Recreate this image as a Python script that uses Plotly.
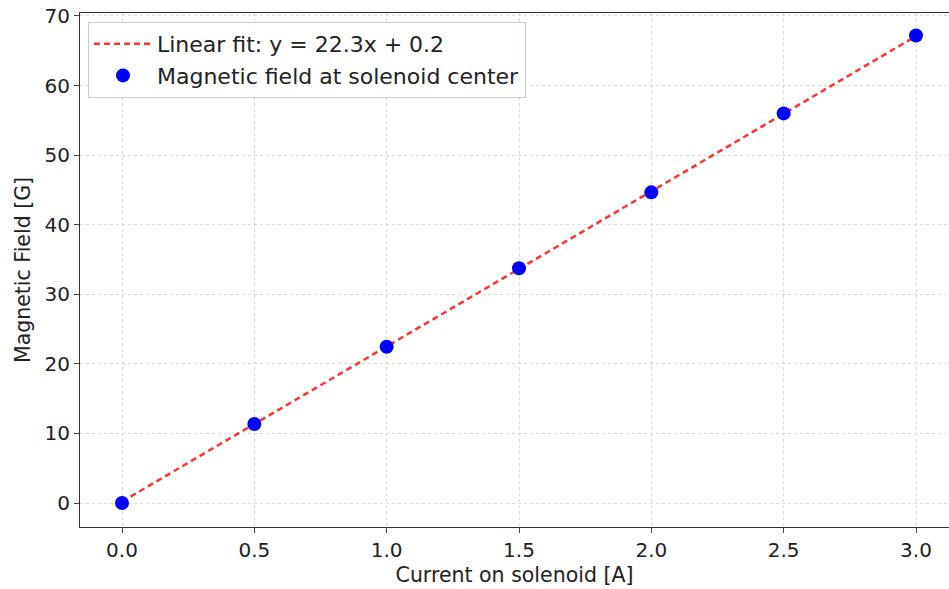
import plotly.graph_objects as go

current = [0.0, 0.5, 1.0, 1.5, 2.0, 2.5, 3.0]
field = [0.0, 11.35, 22.45, 33.75, 44.65, 56.0, 67.2]
field_err = [0.1, 0.1, 0.1, 0.1, 0.1, 0.1, 0.1]
current_err = [0.005, 0.005, 0.005, 0.005, 0.005, 0.005, 0.005]
fit_x = [0.0, 3.0]
fit_y = [0.2, 67.1]
x_ticks = [0.0, 0.5, 1.0, 1.5, 2.0, 2.5, 3.0]
x_tick_labels = ["0.0", "0.5", "1.0", "1.5", "2.0", "2.5", "3.0"]
y_ticks = [0, 10, 20, 30, 40, 50, 60, 70]

W, H = 949, 589
ml, mr, mt, mb = 80, 0, 13, 62
font = "DejaVu Sans"
tfs = 20
lfs = 20.5
gfs = 22

fig = go.Figure()
fig.add_trace(go.Scatter(
    x=fit_x, y=fit_y, mode="lines",
    line=dict(color="rgba(255,0,0,0.8)", width=2.5, dash="6px,4px"),
    name="Linear fit: y = 22.3x + 0.2",
))
fig.add_trace(go.Scatter(
    x=current, y=field, mode="markers",
    marker=dict(color="blue", size=14),
    error_y=dict(type="data", array=field_err, color="blue", thickness=1.5, width=0),
    error_x=dict(type="data", array=current_err, color="blue", thickness=1.5, width=0),
    name="Magnetic field at solenoid center",
))

axis_common = dict(
    showline=True, linecolor="#333333", linewidth=1,
    ticks="outside", ticklen=5, tickcolor="#444444",
    showgrid=True, gridcolor="#dadada", griddash="dot", gridwidth=1,
    zeroline=False,
    tickfont=dict(family=font, size=tfs, color="#222222"),
)

fig.update_layout(
    width=W, height=H,
    margin=dict(l=ml, r=mr, t=mt, b=mb),
    paper_bgcolor="white", plot_bgcolor="white",
    font=dict(family=font, size=tfs, color="#222222"),
    xaxis=dict(
        range=[-0.1587, 3.1247],
        tickvals=x_ticks, ticktext=x_tick_labels,
        mirror=True,
        title=dict(text="Current on solenoid [A]", font=dict(family=font, size=lfs), standoff=6),
        **axis_common,
    ),
    yaxis=dict(
        range=[-3.45, 70.43],
        tickvals=y_ticks,
        mirror=False,
        title=dict(text="Magnetic Field [G]", font=dict(family=font, size=lfs), standoff=8),
        **axis_common,
    ),
    legend=dict(
        x=8 / (W - ml - mr), y=1 - 9 / (H - mt - mb),
        xanchor="left", yanchor="top",
        bgcolor="rgba(255,255,255,0.85)",
        bordercolor="#cccccc", borderwidth=1,
        font=dict(family=font, size=gfs, color="#222222"),
        itemwidth=58,
        tracegroupgap=0,
    ),
    showlegend=True,
)

fig.write_html("out.html")
